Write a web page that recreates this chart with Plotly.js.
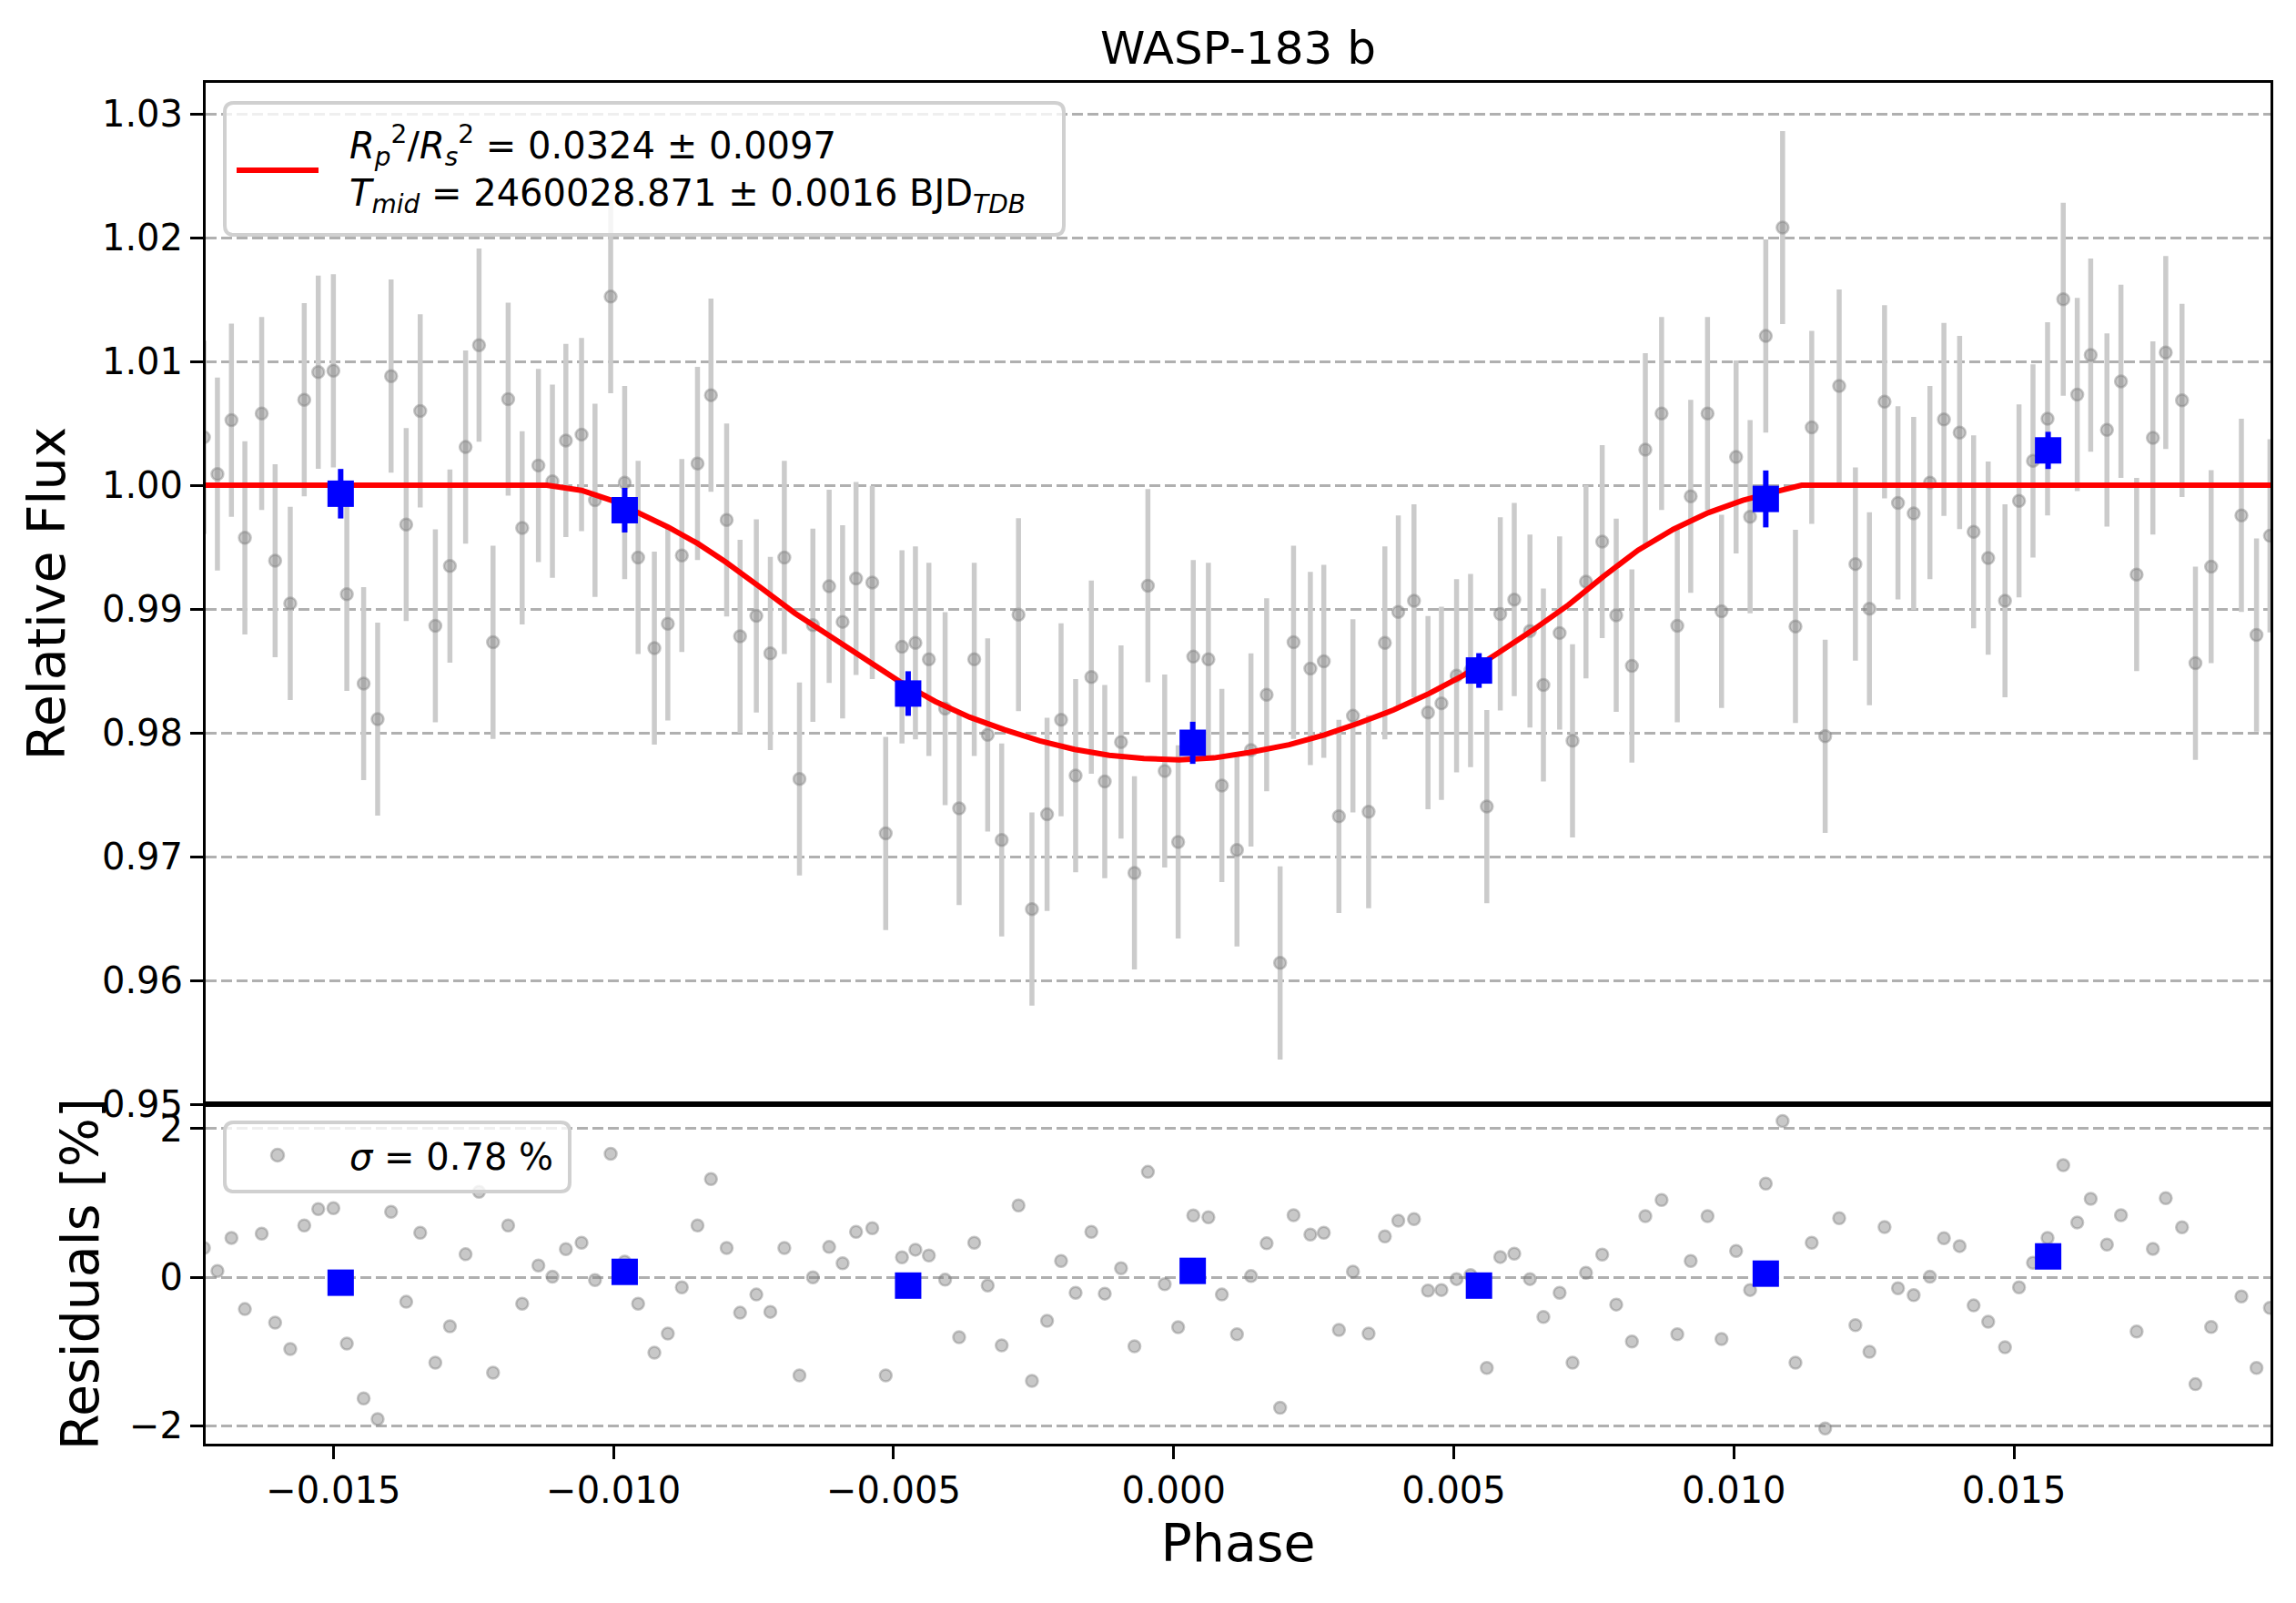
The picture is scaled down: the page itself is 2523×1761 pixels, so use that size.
<!DOCTYPE html>
<html>
<head>
<meta charset="utf-8">
<script src="https://cdn.plot.ly/plotly-3.0.1.min.js"></script>
<style>
  html, body { margin: 0; padding: 0; background: #fff; }
  #chart { width: 2523px; height: 1761px; }
</style>
</head>
<body>
<div id="chart"></div>
<script>
// phase of each exposure
const phase = [
  -0.01731, -0.01707, -0.01682, -0.01658, -0.01628, -0.01604, -0.01577, -0.01552, -0.01527, -0.01500,
  -0.01476, -0.01446, -0.01421, -0.01397, -0.01370, -0.01345, -0.01318, -0.01292, -0.01264, -0.01240,
  -0.01215, -0.01188, -0.01163, -0.01134, -0.01109, -0.01085, -0.01057, -0.01033, -0.01005, -0.00980,
  -0.00956, -0.00927, -0.00903, -0.00878, -0.00850, -0.00826, -0.00798, -0.00774, -0.00745, -0.00720,
  -0.00695, -0.00668, -0.00644, -0.00615, -0.00591, -0.00567, -0.00538, -0.00514, -0.00485, -0.00461,
  -0.00437, -0.00408, -0.00383, -0.00356, -0.00332, -0.00307, -0.00277, -0.00253, -0.00226, -0.00201,
  -0.00175, -0.00147, -0.00123, -0.00094, -0.00070, -0.00046, -0.00016, 0.00008, 0.00035, 0.00062,
  0.00086, 0.00113, 0.00138, 0.00166, 0.00190, 0.00214, 0.00244, 0.00268, 0.00295, 0.00320,
  0.00348, 0.00377, 0.00401, 0.00429, 0.00454, 0.00478, 0.00505, 0.00530, 0.00559, 0.00583,
  0.00608, 0.00636, 0.00660, 0.00689, 0.00712, 0.00736, 0.00765, 0.00790, 0.00818, 0.00842,
  0.00871, 0.00899, 0.00923, 0.00953, 0.00978, 0.01004, 0.01029, 0.01057, 0.01087, 0.01110,
  0.01139, 0.01163, 0.01188, 0.01217, 0.01242, 0.01269, 0.01293, 0.01321, 0.01350, 0.01375,
  0.01403, 0.01428, 0.01454, 0.01484, 0.01509, 0.01534, 0.01560, 0.01588, 0.01613, 0.01637,
  0.01666, 0.01691, 0.01719, 0.01748, 0.01771, 0.01800, 0.01824, 0.01852, 0.01906, 0.01933,
  0.01957
];

const flux = [
  1.00387, 1.0009, 1.00525, 0.99575, 1.00579, 0.9939, 0.99045, 1.0069, 1.00913, 1.00924,
  0.99119, 0.98397, 0.9811, 1.00881, 0.99682, 1.006, 0.98864, 0.99347, 1.00308, 1.01131,
  0.98731, 1.00695, 0.99655, 1.00159, 1.00032, 1.00361, 1.00409, 0.99878, 1.01523, 1.00021,
  0.99416, 0.98684, 0.9888, 0.99432, 1.00175, 1.00727, 0.99719, 0.98779, 0.98944, 0.98641,
  0.99416, 0.97627, 0.98869, 0.99183, 0.98896, 0.99246, 0.99214, 0.97187, 0.98694, 0.98726,
  0.98593, 0.98195, 0.97389, 0.98593, 0.97983, 0.97134, 0.98954, 0.96576, 0.97341, 0.98105,
  0.97654, 0.9845, 0.97606, 0.97925, 0.96868, 0.99188, 0.97691, 0.97118, 0.98615, 0.98593,
  0.97574, 0.97054, 0.97861, 0.98307, 0.96141, 0.98731, 0.98519, 0.98577, 0.97325, 0.98137,
  0.97362, 0.98726, 0.98976, 0.99066, 0.98163, 0.98238, 0.98461, 0.98503, 0.97404, 0.9896,
  0.99076, 0.98822, 0.98386, 0.98806, 0.97935, 0.9922, 0.99544, 0.98949, 0.9854, 1.00287,
  1.00579, 0.98864, 0.9991, 1.00579, 0.98981, 1.00228, 0.99745, 1.01205, 1.02081, 0.98859,
  1.00467, 0.97972, 1.00801, 0.99363, 0.99002, 1.00674, 0.99857, 0.99772, 1.00021, 1.00531,
  1.00425, 0.99623, 0.99411, 0.99066, 0.99873, 1.00196, 1.00536, 1.01502, 1.00732, 1.01051,
  1.00446, 1.00839, 0.99278, 1.00382, 1.01072, 1.00685, 0.98562, 0.99342, 0.99756, 0.9879,
  0.99591
];
const fluxErr = 0.0078;

// residuals in percent
const residual = [
  0.395, 0.086, 0.53, -0.428, 0.587, -0.611, -0.966, 0.697, 0.917, 0.929,
  -0.893, -1.631, -1.908, 0.881, -0.33, 0.599, -1.15, -0.66, 0.31, 1.15,
  -1.284, 0.697, -0.355, 0.159, 0.008, 0.379, 0.465, -0.037, 1.663, 0.21,
  -0.355, -1.015, -0.758, -0.135, 0.697, 1.321, 0.395, -0.477, -0.232, -0.465,
  0.395, -1.321, 0.0, 0.408, 0.188, 0.611, 0.66, -1.321, 0.269, 0.371,
  0.294, -0.033, -0.807, 0.465, -0.11, -0.917, 0.966, -1.394, -0.587, 0.22,
  -0.208, 0.611, -0.22, 0.122, -0.929, 1.419, -0.094, -0.673, 0.832, 0.807,
  -0.232, -0.766, 0.016, 0.457, -1.757, 0.836, 0.575, 0.599, -0.709, 0.077,
  -0.758, 0.55, 0.762, 0.783, -0.179, -0.171, -0.024, 0.03, -1.219, 0.273,
  0.318, -0.024, -0.534, -0.208, -1.15, 0.061, 0.306, -0.367, -0.864, 0.823,
  1.04, -0.766, 0.22, 0.823, -0.832, 0.355, -0.171, 1.26, 2.104, -1.15,
  0.465, -2.034, 0.795, -0.644, -1.003, 0.677, -0.147, -0.241, 0.008, 0.526,
  0.42, -0.379, -0.599, -0.942, -0.135, 0.196, 0.53, 1.508, 0.738, 1.056,
  0.44, 0.836, -0.73, 0.383, 1.064, 0.673, -1.439, -0.669, -0.257, -1.219,
  -0.412
];

// binned points (blue squares)
const binPhase = [-0.01487, -0.00980, -0.00474, 0.00034, 0.00545, 0.01057, 0.01561];
const binFlux = [0.99931, 0.99798, 0.98317, 0.97919, 0.98503, 0.99889, 1.00281];
const binFluxErr = [0.0020, 0.0018, 0.0018, 0.0017, 0.0014, 0.0023, 0.0015];
const binResidual = [-0.073, 0.073, -0.112, 0.086, -0.112, 0.049, 0.281];

// transit model (red)
const modelPhase = [
  -0.01728, -0.01119, -0.01057, -0.01005, -0.00956, -0.00902, -0.00850, -0.00800, -0.00738, -0.00676,
  -0.00613, -0.00551, -0.00489, -0.00426, -0.00364, -0.00302, -0.00239, -0.00177, -0.00115, -0.00053,
  0.00010, 0.00072, 0.00134, 0.00206, 0.00269, 0.00331, 0.00393, 0.00456, 0.00518, 0.00580,
  0.00642, 0.00705, 0.00767, 0.00829, 0.00892, 0.00954, 0.01016, 0.01078, 0.01121, 0.01958
];
const modelFlux = [
  1.0, 1.0, 0.99958, 0.9988, 0.99777, 0.9966, 0.9953, 0.9938, 0.99175, 0.98965,
  0.98779, 0.98593, 0.98413, 0.98254, 0.98126, 0.98025, 0.97935, 0.97866, 0.97818, 0.97792,
  0.97781, 0.97797, 0.9784, 0.97903, 0.97983, 0.98079, 0.98185, 0.98317, 0.98466, 0.98647,
  0.98832, 0.99034, 0.99262, 0.99475, 0.99644, 0.99777, 0.99878, 0.99952, 1.0, 1.0
];

const fluxTicks = [0.95, 0.96, 0.97, 0.98, 0.99, 1.00, 1.01, 1.02, 1.03];
const residTicks = [-2, 0, 2];
const phaseTicks = [-0.015, -0.010, -0.005, 0.000, 0.005, 0.010, 0.015];

const legendText = '<i>R</i><sub><i>p</i></sub><sup>2</sup>/<i>R</i><sub><i>s</i></sub><sup>2</sup> = 0.0324 ± 0.0097' +
  '<br><i>T</i><sub><i>mid</i></sub> = 2460028.871 ± 0.0016 BJD<sub><i>TDB</i></sub>';
const residLegendText = '<i>σ</i> = 0.78 %';

// page geometry
const W = 2523, H = 1761;
const M = { l: 226, r: 28, t: 91, b: 175 };
const PW = W - M.l - M.r, PH = H - M.t - M.b;
const split = 373 / PH;
const fx = px => (px - M.l) / PW;
const fy = py => (H - M.b - py) / PH;

function roundedBox(x0, y0, x1, y1, r) {
  const X = v => fx(v).toFixed(5), Y = v => fy(v).toFixed(5);
  return `M${X(x0 + r)},${Y(y0)} L${X(x1 - r)},${Y(y0)} Q${X(x1)},${Y(y0)} ${X(x1)},${Y(y0 + r)} ` +
    `L${X(x1)},${Y(y1 - r)} Q${X(x1)},${Y(y1)} ${X(x1 - r)},${Y(y1)} ` +
    `L${X(x0 + r)},${Y(y1)} Q${X(x0)},${Y(y1)} ${X(x0)},${Y(y1 - r)} ` +
    `L${X(x0)},${Y(y0 + r)} Q${X(x0)},${Y(y0)} ${X(x0 + r)},${Y(y0)} Z`;
}

const grayFill = 'rgba(128,128,128,0.43)';
const grayMarker = { size: 13, color: grayFill, line: { color: grayFill, width: 2.5 } };

const traces = [
  {
    x: phase, y: flux, xaxis: 'x', yaxis: 'y',
    type: 'scatter', mode: 'markers',
    marker: grayMarker,
    error_y: { type: 'constant', value: fluxErr, color: '#cbcbcb', thickness: 5.5, width: 0 },
    hoverinfo: 'skip', showlegend: false
  },
  {
    x: modelPhase, y: modelFlux, xaxis: 'x', yaxis: 'y',
    type: 'scatter', mode: 'lines',
    line: { color: '#ff0000', width: 6 },
    hoverinfo: 'skip', showlegend: false
  },
  {
    x: binPhase, y: binFlux, xaxis: 'x', yaxis: 'y',
    type: 'scatter', mode: 'markers',
    marker: { symbol: 'square', size: 29, color: '#0000ff' },
    error_y: { type: 'data', array: binFluxErr, color: '#0000ff', thickness: 6, width: 0 },
    hoverinfo: 'skip', showlegend: false
  },
  {
    x: phase, y: residual, xaxis: 'x2', yaxis: 'y2',
    type: 'scatter', mode: 'markers',
    marker: grayMarker,
    hoverinfo: 'skip', showlegend: false
  },
  {
    x: binPhase, y: binResidual, xaxis: 'x2', yaxis: 'y2',
    type: 'scatter', mode: 'markers',
    marker: { symbol: 'square', size: 29, color: '#0000ff' },
    hoverinfo: 'skip', showlegend: false
  }
];

const axisLine = { showline: true, linecolor: '#000', linewidth: 3, mirror: true, zeroline: false };
const grid = { showgrid: true, gridcolor: '#b0b0b0', gridwidth: 3, griddash: '12px,5px' };
const tickStyle = { ticks: 'outside', ticklen: 14, tickwidth: 3, tickcolor: '#000' };
const xRange = [-0.01728, 0.01958];

const layout = {
  width: W, height: H,
  margin: M,
  paper_bgcolor: '#fff', plot_bgcolor: '#fff',
  font: { family: 'DejaVu Sans', size: 40, color: '#000' },
  title: {
    text: 'WASP-183 b', font: { size: 50 },
    xref: 'paper', x: 0.5, xanchor: 'center',
    yref: 'container', y: 1 - 52 / H, yanchor: 'middle'
  },
  xaxis: Object.assign({
    domain: [0, 1], anchor: 'y', range: xRange,
    showticklabels: false, ticks: '', showgrid: false
  }, axisLine),
  yaxis: Object.assign({
    domain: [split, 1], anchor: 'x', range: [0.95, 1.0325],
    tickvals: fluxTicks, tickformat: '.2f',
    title: { text: 'Relative Flux', font: { size: 57 }, standoff: 22 }
  }, axisLine, grid, tickStyle),
  xaxis2: Object.assign({
    domain: [0, 1], anchor: 'y2', range: xRange, matches: 'x',
    tickvals: phaseTicks, tickformat: '.3f', showgrid: false,
    title: { text: 'Phase', font: { size: 57 }, standoff: 17 }
  }, axisLine, tickStyle),
  yaxis2: Object.assign({
    domain: [0, split], anchor: 'x2', range: [-2.24, 2.33],
    tickvals: residTicks,
    title: { text: 'Residuals [%]', font: { size: 57 }, standoff: 16 }
  }, axisLine, grid, tickStyle),
  shapes: [
    // main legend
    {
      type: 'path', xref: 'paper', yref: 'paper', layer: 'above',
      path: roundedBox(247, 113, 1169, 258, 10),
      fillcolor: 'rgba(255,255,255,0.8)', line: { color: '#d0d0d0', width: 4 }
    },
    {
      type: 'line', xref: 'paper', yref: 'paper', layer: 'above',
      x0: fx(260), x1: fx(350), y0: fy(187), y1: fy(187),
      line: { color: '#ff0000', width: 6 }
    },
    // residual legend
    {
      type: 'path', xref: 'paper', yref: 'paper', layer: 'above',
      path: roundedBox(247, 1233, 626, 1309, 10),
      fillcolor: 'rgba(255,255,255,0.8)', line: { color: '#d0d0d0', width: 4 }
    },
    {
      type: 'circle', xref: 'paper', yref: 'paper', layer: 'above',
      xsizemode: 'pixel', ysizemode: 'pixel',
      xanchor: fx(305), yanchor: fy(1269),
      x0: -7, x1: 7, y0: -7, y1: 7,
      fillcolor: grayFill, line: { color: grayFill, width: 2.5 }
    }
  ],
  annotations: [
    {
      text: legendText, xref: 'paper', yref: 'paper',
      x: fx(382), y: fy(186), xanchor: 'left', yanchor: 'middle', align: 'left',
      showarrow: false, font: { size: 40 }
    },
    {
      text: residLegendText, xref: 'paper', yref: 'paper',
      x: fx(382), y: fy(1271), xanchor: 'left', yanchor: 'middle', align: 'left',
      showarrow: false, font: { size: 40 }
    }
  ]
};

Plotly.newPlot('chart', traces, layout, { displayModeBar: false, staticPlot: true });
</script>
</body>
</html>
